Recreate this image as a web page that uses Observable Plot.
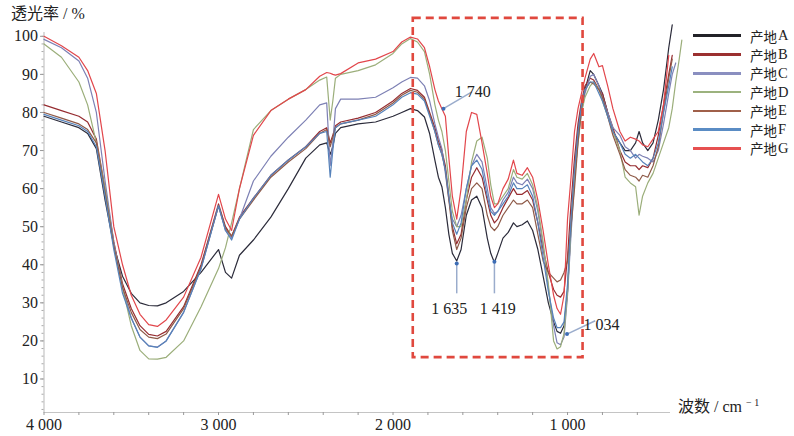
<!DOCTYPE html>
<html><head><meta charset="utf-8">
<script src="https://cdn.jsdelivr.net/npm/d3@7"></script>
<script src="https://cdn.jsdelivr.net/npm/@observablehq/plot@0.6"></script>
<style>
body{margin:0;background:#fff;}
#wrap{position:relative;width:794px;height:436px;font-family:"Liberation Serif","Noto Sans CJK SC",serif;color:#222;}
#chart{position:absolute;left:0;top:0;}
#title{position:absolute;left:11px;top:5px;font-size:16px;line-height:18px;}
#xlabel{position:absolute;left:678px;top:394px;font-size:16px;line-height:18px;}
#xlabel sup{font-size:10px;vertical-align:6px;}
#legend{position:absolute;left:693px;top:26.3px;}
.row{height:18.8px;display:flex;align-items:center;font-size:13.5px;}
.row .sw{display:inline-block;width:48px;height:2.6px;margin-right:9px;}
.row .lt{font-size:14.5px;margin-left:1px;}
</style></head>
<body><div id="wrap"><div id="chart"></div><div id="title">透光率 / %</div><div id="xlabel">波数 / cm <sup>− 1</sup></div><div id="legend"></div></div>
<script>
const W = [4000,3900,3800,3750,3700,3650,3600,3550,3500,3450,
  3400,3350,3300,3200,3100,3000,2960,2925,2880,2800,
  2700,2600,2500,2420,2380,2360,2345,2330,2300,2200,
  2100,2000,1950,1900,1860,1820,1790,1760,1740,1720,
  1700,1680,1660,1635,1610,1580,1550,1520,1490,1460,
  1440,1419,1400,1370,1340,1310,1290,1260,1230,1200,
  1170,1140,1110,1080,1060,1040,1020,1000,980,960,
  940,920,900,870,850,820,800,770,740,700,
  670,640,610,590,570,540,510,480,450,420,
  400,380,360,345];

const sA = [79,77.5,76,74.5,70.5,57,45,37,32.5,30,
  29.3,29.2,30,33,38,44,38,36.5,42.5,46.5,
  52.5,60,68,71.5,72,69,71,74.5,76,77,
  77.5,79,80,81,80.5,78.8,74.4,67.4,63,60.5,
  55,48,43,41,44,53,57,58,55,47,
  43,40.6,43,47,48.5,51,50,50.5,51.5,49,
  44,37,30,25,22.5,22,24,33,50,64,
  75,82,86,91,90,87,85,80,75,72,
  70,70,72,75,72,70,72,78,86,97,
  103,null,null,null];
const sB = [82,80.5,79,77.5,73,60,46,35,28.5,24,
  21.7,21.3,22.5,29,40,56,50,47.5,52.5,57.5,
  63.5,67.5,71,75,76,72,74,76.5,77.5,78.5,
  80,83,85,86.3,85.8,84,80,76,72.5,70,
  66,58,50,45.5,48,57,63,65.5,63,57,
  53,51,52,55,57.5,60,58.5,58.5,59.5,57,
  51,44,38,33.5,32,31.5,33,42,56,68,
  77,83,87,89,88.5,86,85,80,76,70,
  67,66,66,65,66,65.5,68,74,82,90,
  95,null,null,null];
const sC = [99.2,97,93.5,89,80,62,46,34,26,21,
  18.7,18.4,20,27.5,39,55.5,49,47,52,62,
  68.5,73.5,78,82,82.5,66,72,81,83.5,83.5,
  84,86.5,88,89.2,89,87,83,77,73.5,70.5,
  64,57,52,50,53,60,66,69,67,60,
  55,53.5,54,57,59,63,61.5,61,62.5,60,
  54,45,34,24,19.5,19,21,32,48,62,
  73,80,85,89.5,90,87,84,80,76,74,
  71,70,68,69,68.5,68,67,70,77,85,
  90,93,null,null];
const sD = [98,94.5,88,82,72,60,45,34,24,17.5,
  15.3,15.2,15.7,20,29,39,44.5,51,60,75.5,
  80.5,83.5,86,88.5,89.3,78,83,89,90,91,
  92.5,95.5,98,99.4,98.5,96,90,82,78,75,
  70,62,54,50,50,57,67,72.5,73.5,68,
  61,56,56,58,60,65,63,62.5,64,61,
  55,46,35,20,17.9,18.5,22,33,50,63,
  72,80,84,87,88,86,83,79,75,70,
  63,61.5,60.5,53,58,61.5,64,68,72,76,
  81,88,94,99];
const sE = [80,78.5,77,75.5,72,59,45,34,27.5,23,
  21,20.6,21.8,28.5,39.5,55.5,49.5,47.5,52,57,
  63,67,70.5,74.5,75.5,71,73.5,76,77,78,
  79.5,82.5,84.5,85.8,85.3,83.5,79.5,75,71.5,69,
  65,57,49,44,47,55,60,61.5,60,53,
  50,49,50,53,55,57,56,56,57,55,
  48,41,38,36.5,35.5,36,38,41,50,60,
  72,81,86,88,87.5,86,84,79,74,69,
  65,63.5,63,62,63.5,63,66,71,80,89,
  94,null,null,null];
const sF = [79.5,78,76.5,75,71,58,44,32.5,26,21,
  18.7,18.3,20,27.5,39,55.5,49,46.5,52,57.5,
  63.5,67.5,71,74.5,75,63,70,76,77,78,
  79,82,84,85.2,84.8,83,79,75,71.5,69,
  65,58,51,48,51,60,66,67.5,65,58,
  54,53,54,56,58,61.5,60,60,61,58,
  51,42,33,26,23.5,23.5,25,35,52,65,
  75,82,86,88,88,85,83,79,75,72,
  69,68,69,68,67,66,68,72,80,87,
  92,null,null,null];
const sG = [100,97.5,94.5,91,85,70,50,40,32,27,
  24.3,23.8,25.5,31.5,42,58.5,52,49,60,74,
  80.5,83.5,86,89.5,90.5,90.3,90,89.8,90.2,93,
  94,96,98.5,99.8,99.3,97,92,86,83,81,
  79,68,58,52,60,75,80,79.5,72,64,
  58,55,56,60,62.5,67.5,64,63.5,65.5,63,
  57,49,40,32,28.5,27,32,52,63,75,
  81,85,89,94,95.5,92,92.3,87,81,75,
  72.5,73.5,73,72.5,71.5,71,73,75,82,95,
  null,null,null,null];

const origins = ["A","B","C","D","E","F","G"];
const names = origins.map(o => "产地" + o);
const series = [sA,sB,sC,sD,sE,sF,sG];
const colors = ["#2b2b3a","#962c30","#7d80b4","#9bae7a","#8e5a48","#5682ba","#e2464b"];
const legendColors = ["#222228","#9b3030","#8a8fc0","#9cb27e","#a0604a","#5a8cc4","#e65050"];

const xMajor = [4000,3000,2000,1000];
const xMinor = d3.range(4000, 400, -200);
const yMajor = d3.range(10, 101, 10);
const yMinor = d3.range(2, 101, 2);
const xDomain = [4000, 410];
const yDomain = [1.2, 101];

const box = [{x1: 1884, x2: 911, y1: 15.6, y2: 104.7}];
const arrows = [
  {x1: 1711, y1: 81, x2: 1548, y2: 85.4},
  {x1: 1635, y1: 40.3, x2: 1635, y2: 32.5},
  {x1: 1419, y1: 40.8, x2: 1419, y2: 32.5},
  {x1: 1003, y1: 21.8, x2: 841, y2: 25.3}
];
const peakLabels = [
  {t: "1 740", x: 1543, y: 85.5, a: "start"},
  {t: "1 635", x: 1678, y: 28.5, a: "middle"},
  {t: "1 419", x: 1400, y: 28.5, a: "middle"},
  {t: "1 034", x: 806, y: 24.2, a: "start"}
];

const data = [];
series.forEach((vals, k) => vals.forEach((v, i) => {
  if (v != null) data.push({wn: W[i], t: v, s: names[k]});
}));

const fmt = d => `${Math.floor(d/1000)} ${String(d % 1000).padStart(3, "0")}`;

const chart = Plot.plot({
  width: 794, height: 436,
  marginLeft: 43.5, marginRight: 124, marginTop: 32, marginBottom: 24,
  style: {fontFamily: "Liberation Serif, serif", fontSize: "16px", background: "transparent", color: "#222", overflow: "visible"},
  x: {domain: xDomain, label: null},
  y: {domain: yDomain, label: null},
  color: {domain: names, range: colors},
  marks: [
    Plot.ruleX([xDomain[0]], {stroke: "#c4c4c4", strokeWidth: 1.2}),
    Plot.ruleY([yDomain[0]], {stroke: "#c4c4c4", strokeWidth: 1.2}),
    Plot.axisY({ticks: yMinor, tickSize: 2, tickFormat: () => "", stroke: "#aaa"}),
    Plot.axisY({ticks: yMajor, tickSize: 3.5, tickPadding: 2.5, fontSize: 16, stroke: "#999"}),
    Plot.axisX({ticks: xMinor, tickSize: 3, tickFormat: () => "", stroke: "#999"}),
    Plot.axisX({ticks: xMajor, tickSize: 0, tickPadding: 6, tickFormat: fmt, fontSize: 16}),
    Plot.line(data, {x: "wn", y: "t", z: "s", stroke: "s", strokeWidth: 1.2, strokeLinejoin: "round"}),
    Plot.rect(box, {x1: "x1", x2: "x2", y1: "y1", y2: "y2", fill: "none", stroke: "#e0483e", strokeWidth: 2.6, strokeDasharray: "8,5"}),
    Plot.link(arrows, {x1: "x1", y1: "y1", x2: "x2", y2: "y2", stroke: "#9aaccc", strokeWidth: 1.5}),
    Plot.dot(arrows, {x: "x1", y: "y1", r: 2, fill: "#3d6db5", stroke: null}),
    Plot.text(peakLabels, {x: "x", y: "y", text: "t", textAnchor: "a", fontSize: 16, fill: "#222"})
  ]
});
document.getElementById("chart").appendChild(chart);

const leg = document.getElementById("legend");
origins.forEach((o, i) => {
  const r = document.createElement("div");
  r.className = "row";
  const sw = document.createElement("span");
  sw.className = "sw";
  sw.style.background = legendColors[i];
  r.appendChild(sw);
  r.appendChild(document.createTextNode("产地"));
  const lt = document.createElement("span");
  lt.className = "lt";
  lt.textContent = o;
  r.appendChild(lt);
  leg.appendChild(r);
});
</script>
</body></html>
